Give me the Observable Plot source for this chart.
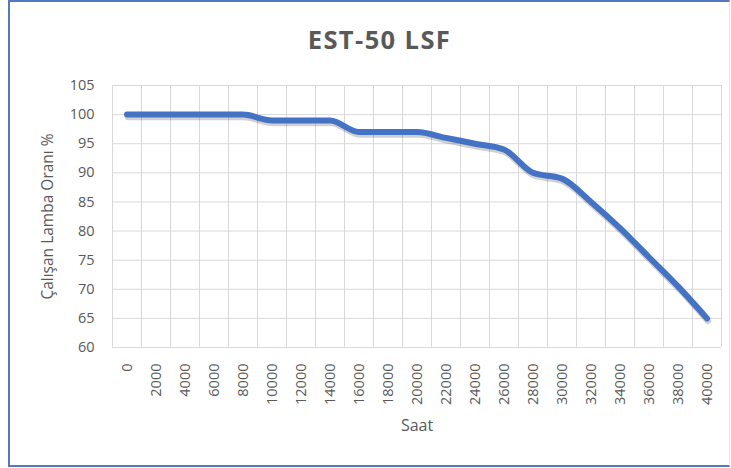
<!DOCTYPE html>
<html>
<head>
<meta charset="utf-8">
<script src="https://cdn.jsdelivr.net/npm/d3@7"></script>
<script src="https://cdn.jsdelivr.net/npm/@observablehq/plot@0.6"></script>
<style>
  html, body { margin: 0; padding: 0; background: #fff; overflow: hidden; }
  #wrap { position: relative; width: 731px; height: 468px; overflow: hidden; background: #fff; }
  #frame { position: absolute; left: 8px; top: 0px; width: 719px; height: 463px; border-left: 2px solid #5479C2; border-top: 2px solid #5479C2; border-bottom: 2px solid #5479C2; border-right: 1px solid #dfe5f1; box-sizing: content-box; pointer-events: none; }
  #title { height: 75px; box-sizing: border-box; padding-top: 27px; line-height: 24px; font-family: "Open Sans", sans-serif; font-weight: 700; font-size: 25.5px; letter-spacing: 1.4px; color: #595959; text-align: center; padding-left: 28px; }
  #chart svg { display: block; }
</style>
</head>
<body>
<div id="wrap">
  <div id="title">EST-50 LSF</div>
  <div id="chart"></div>
  <div id="frame"></div>
</div>
<script>
const hours = [0, 2000, 4000, 6000, 8000, 10000, 12000, 14000, 16000, 18000, 20000,
               22000, 24000, 26000, 28000, 30000, 32000, 34000, 36000, 38000, 40000];
const ratio = [100, 100, 100, 100, 100, 99, 99, 99, 97, 97, 97,
               96, 95, 94, 90, 89, 85, 80.5, 75.5, 70.5, 65];
const yTicks = [60, 65, 70, 75, 80, 85, 90, 95, 100, 105];
const xLabel = "Saat";
const yLabel = "Çalışan Lamba Oranı %";

const data = hours.map((h, i) => ({hour: h, value: ratio[i]}));
const step = hours[1] - hours[0];
const boundaries = [...hours.map(h => h - step / 2), hours[hours.length - 1] + step / 2];

const chart = Plot.plot({
  width: 731,
  height: 393,
  marginTop: 10,
  marginBottom: 121,
  marginLeft: 112,
  marginRight: 10,
  style: {fontFamily: "Open Sans, sans-serif", fontSize: "14px", color: "#595959", background: "transparent"},
  x: {type: "linear", domain: [boundaries[0], boundaries[boundaries.length - 1]]},
  y: {domain: [yTicks[0], yTicks[yTicks.length - 1]]},
  marks: [
    Plot.ruleY(yTicks, {stroke: "#d9d9d9", strokeWidth: 1}),
    Plot.ruleX(boundaries, {stroke: "#d9d9d9", strokeWidth: 1}),
    Plot.axisY({ticks: yTicks, tickSize: 0, tickPadding: 18, label: null, fontSize: 14.5, fill: "#595959"}),
    Plot.axisX({ticks: hours, tickFormat: d => String(d), tickRotate: -90, tickSize: 0, tickPadding: 16, label: null, fontSize: 14.5, fill: "#595959"}),
    Plot.text([yLabel], {frameAnchor: "left", dx: -64, rotate: -90, textAnchor: "middle", text: d => d, fontSize: 15.5, fill: "#595959"}),
    Plot.text([xLabel], {frameAnchor: "bottom", dy: 83, text: d => d, fontSize: 16, fill: "#595959"}),
    Plot.line(data, {x: "hour", y: "value", curve: "monotone-x", stroke: "#000", strokeOpacity: 0.18, strokeWidth: 6.5, dx: 1, dy: 2.5, strokeLinecap: "round", strokeLinejoin: "round"}),
    Plot.line(data, {x: "hour", y: "value", curve: "monotone-x", stroke: "#4472C4", strokeWidth: 6, strokeLinecap: "round", strokeLinejoin: "round"})
  ]
});
document.getElementById("chart").appendChild(chart);
</script>
</body>
</html>
